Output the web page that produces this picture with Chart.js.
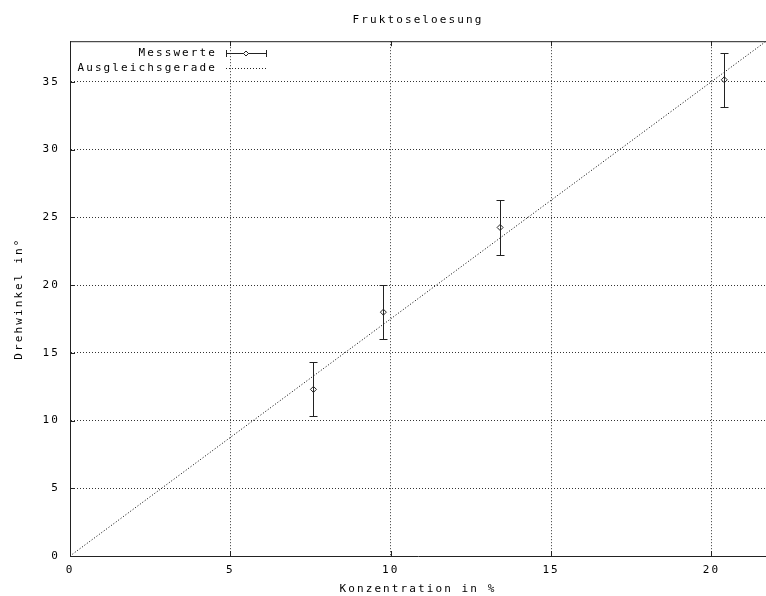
<!DOCTYPE html>
<html>
<head>
<meta charset="utf-8">
<script src="https://cdn.jsdelivr.net/npm/chart.js@4/dist/chart.umd.min.js"></script>
<style>
  html, body { margin: 0; padding: 0; background: #fff; overflow: hidden; }
  #wrap { width: 766px; height: 596px; }
</style>
</head>
<body>
<div id="wrap"><canvas id="chart"></canvas></div>
<script>
// Messwerte (Konzentration in %, Drehwinkel in Grad, Fehler)
const konzentration = [7.59, 9.77, 13.41, 20.40];
const drehwinkel = [12.3, 18.0, 24.25, 35.15];
const fehler = [2.0, 2.0, 2.0, 2.0];

const geradeX = [0, 21.7];
const geradeY = [0, 37.99];

const xTicks = [0, 5, 10, 15, 20];
const yTicks = [0, 5, 10, 15, 20, 25, 30, 35];

const FONT = "'DejaVu Sans Mono', monospace";
const SPACING = '2.1px';
const INK = '#222';

// gnuplot-artige Schrift mit breitem Zeichenabstand
const spacingPlugin = {
    id: 'spacing',
    beforeLayout(chart) { chart.ctx.letterSpacing = SPACING; },
    beforeDraw(chart) { chart.ctx.letterSpacing = SPACING; },
    resize(chart) { chart.ctx.letterSpacing = SPACING; }
};

// Fehlerbalken, Rahmen, Ticks nach innen und Legende
const gnuplotPlugin = {
    id: 'gnuplot',
    afterDatasetsDraw(chart) {
        const ctx = chart.ctx;
        const xs = chart.scales.x;
        const ys = chart.scales.y;
        ctx.save();
        ctx.strokeStyle = INK;
        ctx.lineWidth = 1;
        konzentration.forEach((k, i) => {
            const px = Math.round(xs.getPixelForValue(k)) + 0.5;
            const top = Math.round(ys.getPixelForValue(drehwinkel[i] + fehler[i])) + 0.5;
            const bot = Math.round(ys.getPixelForValue(drehwinkel[i] - fehler[i])) + 0.5;
            ctx.beginPath();
            ctx.moveTo(px, top); ctx.lineTo(px, bot);
            ctx.moveTo(px - 4, top); ctx.lineTo(px + 4, top);
            ctx.moveTo(px - 4, bot); ctx.lineTo(px + 4, bot);
            ctx.stroke();
        });
        ctx.restore();
    },
    afterDraw(chart) {
        const ctx = chart.ctx;
        const a = chart.chartArea;
        const xs = chart.scales.x;
        const ys = chart.scales.y;
        ctx.save();
        ctx.strokeStyle = INK;
        ctx.lineWidth = 1;
        // oberer Rahmen
        ctx.beginPath();
        ctx.moveTo(a.left, a.top + 0.5);
        ctx.lineTo(a.right, a.top + 0.5);
        ctx.stroke();
        // Ticks nach innen
        ctx.beginPath();
        xTicks.forEach(v => {
            const px = Math.round(xs.getPixelForValue(v)) + 0.5;
            ctx.moveTo(px, a.bottom); ctx.lineTo(px, a.bottom - 5);
            ctx.moveTo(px, a.top); ctx.lineTo(px, a.top + 5);
        });
        yTicks.forEach(v => {
            const py = Math.round(ys.getPixelForValue(v)) + 0.5;
            ctx.moveTo(a.left, py); ctx.lineTo(a.left + 5, py);
        });
        ctx.stroke();

        // Legende
        const ds = chart.data.datasets;
        ctx.letterSpacing = SPACING;
        ctx.font = '11px ' + FONT;
        ctx.fillStyle = '#000';
        ctx.textAlign = 'right';
        ctx.textBaseline = 'middle';
        const tx = 217;
        const s0 = 226, s1 = 266;
        const r1 = 53, r2 = 68;
        ctx.fillText(ds[0].label, tx, r1);
        ctx.fillText(ds[1].label, tx, r2);
        ctx.beginPath();
        ctx.moveTo(s0, r1 + 0.5); ctx.lineTo(s1, r1 + 0.5);
        ctx.moveTo(s0 + 0.5, r1 - 3); ctx.lineTo(s0 + 0.5, r1 + 4);
        ctx.moveTo(s1 + 0.5, r1 - 3); ctx.lineTo(s1 + 0.5, r1 + 4);
        ctx.stroke();
        const mx = (s0 + s1) / 2;
        ctx.beginPath();
        ctx.moveTo(mx, r1 - 2); ctx.lineTo(mx + 2.5, r1 + 0.5);
        ctx.lineTo(mx, r1 + 3); ctx.lineTo(mx - 2.5, r1 + 0.5);
        ctx.closePath();
        ctx.fillStyle = '#fff';
        ctx.fill();
        ctx.stroke();
        ctx.setLineDash([1, 2]);
        ctx.beginPath();
        ctx.moveTo(s0, r2 + 0.5); ctx.lineTo(s1, r2 + 0.5);
        ctx.stroke();
        ctx.restore();
    }
};

const textFont = { family: FONT, size: 11 };

new Chart(document.getElementById('chart'), {
    type: 'scatter',
    data: {
        datasets: [
            {
                label: 'Messwerte',
                data: konzentration.map((k, i) => ({ x: k, y: drehwinkel[i] })),
                pointStyle: 'rectRot',
                pointRadius: 3,
                pointBorderWidth: 1,
                borderColor: INK,
                backgroundColor: '#fff',
                showLine: false,
                order: 1
            },
            {
                label: 'Ausgleichsgerade',
                data: geradeX.map((x, i) => ({ x: x, y: geradeY[i] })),
                showLine: true,
                borderColor: '#000',
                borderWidth: 1,
                borderDash: [1, 2],
                pointRadius: 0,
                fill: false,
                order: 2
            }
        ]
    },
    options: {
        responsive: true,
        maintainAspectRatio: false,
        animation: false,
        events: [],
        layout: { padding: 0, autoPadding: false },
        plugins: {
            legend: { display: false },
            tooltip: { enabled: false },
            title: {
                display: true,
                text: 'Fruktoseloesung',
                fullSize: false,
                color: '#000',
                font: { family: FONT, size: 11, weight: 'normal', lineHeight: 1.2 },
                padding: { top: 14, bottom: 14 }
            }
        },
        scales: {
            x: {
                type: 'linear',
                min: 0,
                max: 21.7,
                afterBuildTicks: s => { s.ticks = xTicks.map(v => ({ value: v })); },
                afterFit: s => { s.height = 40; },
                grid: { color: '#333', lineWidth: 1, drawTicks: false },
                border: { display: true, color: INK, width: 1, dash: [1, 2] },
                ticks: { color: '#000', font: textFont, padding: 8, maxRotation: 0 },
                title: {
                    display: true,
                    text: 'Konzentration in %',
                    color: '#000',
                    font: textFont,
                    padding: { top: 0, bottom: 0 }
                }
            },
            y: {
                type: 'linear',
                min: 0,
                max: 38,
                afterBuildTicks: s => { s.ticks = yTicks.map(v => ({ value: v })); },
                afterFit: s => { s.width = 70; },
                grid: { color: '#333', lineWidth: 1, drawTicks: false },
                border: { display: true, color: INK, width: 1, dash: [1, 2] },
                ticks: { color: '#000', font: textFont, padding: 10 },
                title: {
                    display: true,
                    text: 'Drehwinkel in°',
                    color: '#000',
                    font: textFont,
                    padding: { top: 13, bottom: 0 }
                }
            }
        }
    },
    plugins: [spacingPlugin, gnuplotPlugin]
});
</script>
</body>
</html>
